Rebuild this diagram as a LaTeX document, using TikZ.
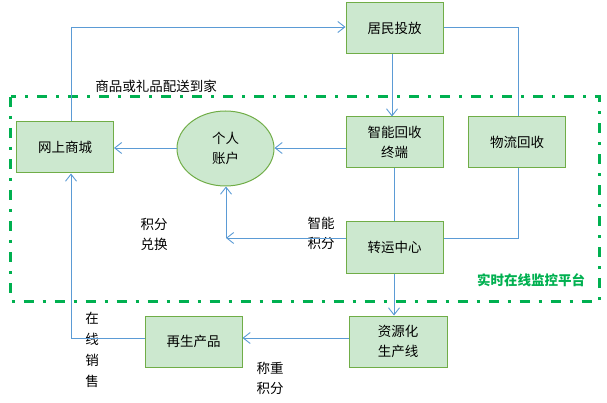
\documentclass[tikz,border=0pt]{standalone}
\usepackage{fontspec}
\setmainfont{Noto Sans CJK SC}
\usetikzlibrary{arrows.meta,shapes.geometric}
\definecolor{boxfill}{HTML}{CCE8CF}
\definecolor{boxline}{HTML}{70AD47}
\definecolor{conn}{HTML}{5B9BD5}
\definecolor{plat}{HTML}{00B050}
\begin{document}
\begin{tikzpicture}[x=1pt,y=-1pt,
  box/.style={draw=boxline, fill=boxfill, line width=1pt, minimum width=97pt, minimum height=51pt, align=center, inner sep=0pt, font=\fontsize{13.5}{20}\selectfont},
  lbl/.style={align=center, inner sep=0pt, font=\fontsize{13.5}{20}\selectfont},
  line/.style={draw=conn, line width=0.9pt},
  arr/.style={line, -{Straight Barb[length=7pt,width=11pt]}}]
\useasboundingbox (0,0) rectangle (607,403);
% platform frame
\draw[plat, line width=3pt, dash pattern=on 10pt off 9pt on 3pt off 9pt] (10.5,97) rectangle (599.5,301);
\node[font=\fontsize{13.5}{16}\selectfont\bfseries, text=plat, inner sep=0pt] (platlbl) at (531,280) {实时在线监控平台};
% nodes
\node[box] (resid) at (394.5,28) {居民投放};
\node[box] (term) at (394.5,142.5) {智能回收\\终端};
\node[box] (logi) at (517,142.5) {物流回收};
\node[box] (shop) at (65,147.5) {网上商城};
\node[box, ellipse, minimum width=97pt, minimum height=75pt] (acct) at (225.5,148.5) {个人\\账户};
\node[box] (trans) at (394.5,247.5) {转运中心};
\node[box, minimum width=98pt] (prod) at (398,341.5) {资源化\\生产线};
\node[box] (regen) at (193.5,341.5) {再生产品};
% labels
\node[lbl] (deliver) at (156,86) {商品或礼品配送到家};
\node[lbl] (smart) at (321,233) {智能\\积分};
\node[lbl] (exch) at (154,234) {积分\\兑换};
\node[lbl, font=\fontsize{13.5}{21}\selectfont] (sale) at (92,350) {在\\线\\销\\售};
\node[lbl] (weigh) at (270,378) {称重\\积分};
% helper coordinates
\coordinate (tl) at (71,27);
\coordinate (v1) at (392,0);
\coordinate (rr) at (518,27);
\coordinate (lb) at (518,238);
\coordinate (v2) at (394,0);
\coordinate (h1) at (0,148);
\coordinate (ca) at (226,238);
\coordinate (h2) at (0,338);
% connectors
\draw[arr] (shop.north -| tl) |- (resid.west |- tl);
\draw[arr] (resid.south -| v1) -- (term.north -| v1);
\draw[line] (resid.east |- rr) -| (logi.north -| rr);
\draw[line] (logi.south -| lb) |- (trans.east |- lb);
\draw[line] (term.south -| v2) -- (trans.north -| v2);
\draw[arr] (term.west |- h1) -- (acct.east |- h1);
\draw[arr] (acct.west |- h1) -- (shop.east |- h1);
\draw[arr] (trans.west |- ca) -- (ca);
\draw[arr] (ca) -- (acct.south -| ca);
\draw[arr] (prod.west |- h2) -- (regen.east |- h2);
\draw[arr] (regen.west |- h2) -| (shop.south -| tl);
\draw[arr] (trans.south -| v2) -- (prod.north -| v2);
\end{tikzpicture}
\end{document}
